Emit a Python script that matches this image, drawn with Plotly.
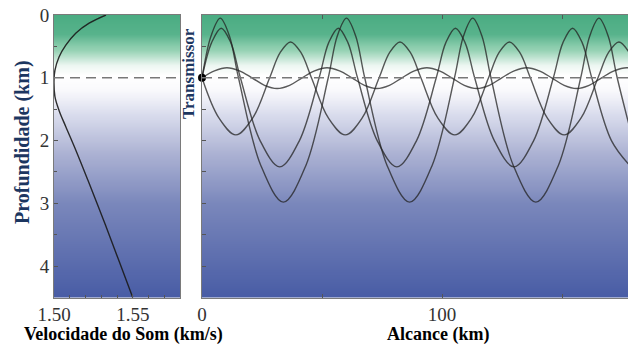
import numpy as np
import plotly.graph_objects as go

# ---- data ----
profile_depth = [0, 0.13, 0.29, 0.48, 0.67, 0.88, 1.04, 1.30, 1.52, 1.78, 2.15, 2.63, 3.27, 3.90, 4.5]
profile_speed = [1.533, 1.5223, 1.5138, 1.5075, 1.5032, 1.5006, 1.5000, 1.5006, 1.5032, 1.5075,
                 1.5138, 1.5215, 1.5315, 1.5410, 1.5500]

rayA_x = [0, 3.8, 7.6, 11.4, 15.2, 24.55, 33.9, 43.25, 52.6, 56.4, 60.2, 64.0, 67.8, 77.15, 86.5, 95.85,
          105.2, 109.0, 112.8, 116.6, 120.4, 129.75, 139.1, 148.45, 157.8, 161.6, 165.4, 169.2, 173.0, 182.35]
rayA_z = [1, 0.33, 0.05, 0.33, 1, 2.40, 2.98, 2.40, 1, 0.33, 0.05, 0.33, 1, 2.40, 2.98, 2.40,
          1, 0.33, 0.05, 0.33, 1, 2.40, 2.98, 2.40, 1, 0.33, 0.05, 0.33, 1, 2.40]

rayB_x = [0, 4, 8, 12, 16, 24.2, 32.4, 40.6, 48.8, 52.8, 56.8, 60.8, 64.8, 73.0, 81.2, 89.4, 97.6,
          101.6, 105.6, 109.6, 113.6, 121.8, 130.0, 138.2, 146.4, 150.4, 154.4, 158.4, 162.4, 170.6, 178.8]
rayB_z = [1, 0.44, 0.21, 0.44, 1, 2.0, 2.42, 2.0, 1, 0.44, 0.21, 0.44, 1, 2.0, 2.42, 2.0, 1,
          0.44, 0.21, 0.44, 1, 2.0, 2.42, 2.0, 1, 0.44, 0.21, 0.44, 1, 2.0, 2.42]

rayC_x = [0, 7.05, 14.1, 21.15, 28.2, 32.55, 36.9, 41.25, 45.6, 52.65, 59.7, 66.75, 73.8, 78.15, 82.5,
          86.85, 91.2, 98.25, 105.3, 112.35, 119.4, 123.75, 128.1, 132.45, 136.8, 143.85, 150.9, 157.95,
          165.0, 169.35, 173.7, 178.05, 182.4]
rayC_z = [1, 1.64, 1.91, 1.64, 1, 0.60, 0.43, 0.60, 1, 1.64, 1.91, 1.64, 1, 0.60, 0.43,
          0.60, 1, 1.64, 1.91, 1.64, 1, 0.60, 0.43, 0.60, 1, 1.64, 1.91, 1.64,
          1, 0.60, 0.43, 0.60, 1]

rayD_x = [0, 5.2, 10.4, 15.6, 20.8, 26.05, 31.3, 36.5, 41.7, 46.9, 52.1, 57.3, 62.5, 67.7, 72.9, 78.1,
          83.3, 88.5, 93.7, 98.9, 104.1, 109.3, 114.5, 119.7, 124.9, 130.1, 135.3, 140.5, 145.7, 150.9,
          156.1, 161.3, 166.5, 171.7, 176.9, 182.1]
rayD_z = [1, 0.89, 0.84, 0.89, 1, 1.12, 1.17, 1.12, 1, 0.89, 0.84, 0.89, 1, 1.12, 1.17, 1.12,
          1, 0.89, 0.84, 0.89, 1, 1.12, 1.17, 1.12, 1, 0.89, 0.84, 0.89, 1, 1.12,
          1.17, 1.12, 1, 0.89, 0.84, 0.89]

source_x = [0]
source_z = [1]
channel_axis_depth = 1.0

speed_ticks = [1.50, 1.55]
speed_ticklabels = ["1.50", "1.55"]
depth_ticks = [0, 1, 2, 3, 4]
range_ticks = [0, 50, 100, 150]
range_ticklabels = ["0", "", "100", ""]

# ---- layout geometry ----
W, H = 628, 344
def px_x(p): return p / W
def px_y(p): return 1 - p / H

SERIF = "Liberation Serif, Times New Roman, serif"
RAY_COLOR = "rgba(35,35,35,0.75)"

# background gradient (styling)
bg_depth = np.linspace(0, 4.5, 91)
colorscale = [
    [0.0, "rgb(74,172,130)"],
    [0.3 / 4.5, "rgb(88,179,140)"],
    [0.55 / 4.5, "rgb(150,210,180)"],
    [0.8 / 4.5, "rgb(236,246,241)"],
    [0.95 / 4.5, "rgb(255,255,255)"],
    [1.2 / 4.5, "rgb(249,249,252)"],
    [1.6 / 4.5, "rgb(216,219,236)"],
    [2.2 / 4.5, "rgb(172,178,211)"],
    [3.0 / 4.5, "rgb(122,135,187)"],
    [1.0, "rgb(72,92,165)"],
]

fig = go.Figure()

def bg(xs, xa, ya):
    fig.add_trace(go.Heatmap(
        x=xs, y=bg_depth, z=[[d, d] for d in bg_depth],
        colorscale=colorscale, zmin=0, zmax=4.5, zsmooth="best",
        showscale=False, hoverinfo="skip", xaxis=xa, yaxis=ya))

bg([1.49, 1.59], "x", "y")
bg([-5, 185], "x2", "y2")

# sound-speed profile
fig.add_trace(go.Scatter(x=profile_speed, y=profile_depth, mode="lines",
                         line=dict(color="rgba(25,25,25,0.9)", width=1.4, shape="spline"),
                         xaxis="x", yaxis="y", showlegend=False, hoverinfo="skip"))

# rays
for rx, rz in [(rayA_x, rayA_z), (rayB_x, rayB_z), (rayC_x, rayC_z), (rayD_x, rayD_z)]:
    fig.add_trace(go.Scatter(x=rx, y=rz, mode="lines",
                             line=dict(color=RAY_COLOR, width=1.4, shape="spline"),
                             xaxis="x2", yaxis="y2", showlegend=False, hoverinfo="skip"))

# source
fig.add_trace(go.Scatter(x=source_x, y=source_z, mode="markers",
                         marker=dict(color="black", size=8), cliponaxis=False,
                         xaxis="x2", yaxis="y2", showlegend=False, hoverinfo="skip"))

# dashed channel axis
for xr, yr in [("x domain", "y"), ("x2 domain", "y2")]:
    fig.add_shape(type="line", xref=xr, yref=yr, x0=0, x1=1,
                  y0=channel_axis_depth, y1=channel_axis_depth,
                  line=dict(color="rgb(120,120,120)", width=1.5, dash="10px,6px"), layer="above")

tickfont = dict(family=SERIF, size=19, color="#333")
axis_common = dict(showline=True, linecolor="#7a7a7a", linewidth=1, mirror=True,
                   ticks="inside", ticklen=4, tickcolor="#555", showgrid=False, zeroline=False,
                   tickfont=tickfont, automargin=False)

x_dom1 = [px_x(54), px_x(180)]
x_dom2 = [px_x(202), 1.0]
y_dom = [px_y(297.5), px_y(15)]

fig.update_layout(
    width=W, height=H, margin=dict(l=0, r=0, t=0, b=0, autoexpand=False),
    paper_bgcolor="white", plot_bgcolor="white", showlegend=False,
    xaxis=dict(domain=x_dom1, range=[1.50, 1.58], tickvals=speed_ticks, ticktext=speed_ticklabels,
               minor=dict(dtick=0.01, tick0=1.50, ticks="inside", ticklen=3, tickcolor="#555"),
               anchor="y", **axis_common),
    yaxis=dict(domain=y_dom, range=[4.5, 0], tickvals=depth_ticks,
               minor=dict(dtick=0.5, tick0=0, ticks="inside", ticklen=3, tickcolor="#555"),
               anchor="x", **axis_common),
    xaxis2=dict(domain=x_dom2, range=[0, 177.5], tickvals=range_ticks, ticktext=range_ticklabels,
                anchor="y2", **{**axis_common, "mirror": "ticks"}),
    yaxis2=dict(domain=y_dom, range=[4.5, 0], tickvals=[0.5 * i for i in range(10)],
                showticklabels=False, anchor="x2", **axis_common),
)

navy = "#1c3660"
def note(text, x, y, size, color, angle=0):
    fig.add_annotation(text=text, x=px_x(x), y=px_y(y), xref="paper", yref="paper",
                       xanchor="center", yanchor="middle", textangle=angle, showarrow=False,
                       font=dict(family=SERIF, size=size, color=color))

note("<b>Profundidade (km)</b>", 22, 142, 20, navy, -90)
note("<b>Transmissor</b>", 189, 74, 17, navy, -90)
note("<b>Velocidade do Som (km/s)</b>", 123, 334, 18, "black")
note("<b>Alcance (km)</b>", 438, 334, 18, "black")

fig.write_html("out.html")
